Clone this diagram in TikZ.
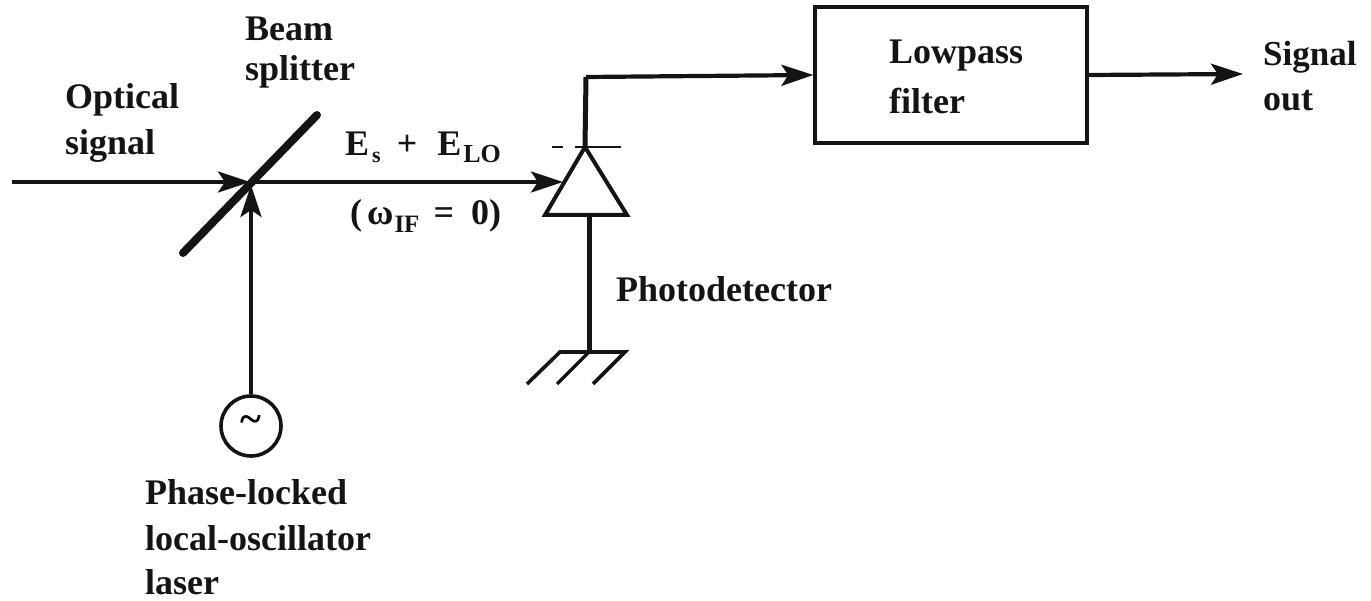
\documentclass[tikz,border=0pt]{standalone}
\usepackage{fontspec}
\setmainfont{Liberation Serif}
\usetikzlibrary{arrows.meta}
\tikzset{
  wire/.style={line width=4.2pt,black!92},
  arr/.style={wire,-{Stealth[length=32pt,width=21pt,inset=7pt]}},
  lbl/.style={font=\fontsize{36pt}{40pt}\selectfont\bfseries,align=left,anchor=west,inner sep=0pt,text=black!92},
}
\begin{document}
\begin{tikzpicture}[x=1pt,y=-1pt]
\useasboundingbox (0,0) rectangle (1371,601);
\fill[white] (0,0) rectangle (1371,601);
\node[draw=black!92,line width=3.2pt,minimum width=272pt,minimum height=136pt,inner sep=0pt] (lp) at (951,75) {};
\node[lbl] (lptext1) at (889,56) {Lowpass};
\node[lbl] (lptext2) at (889,101) {filter};
\node[circle,draw=black!92,line width=3.6pt,minimum size=60pt,inner sep=0pt] (osc) at (251,426) {};
\node[font=\fontsize{40pt}{40pt}\selectfont\bfseries,inner sep=0pt] (tilde) at (251,424) {\char"7E};
\coordinate (in) at (12,182);
\coordinate (bs) at (250,182);
\coordinate (bsa) at (183,253);
\coordinate (bsb) at (317,115);
\coordinate (vtip) at (251,185);
\coordinate (dapex) at (585,147);
\coordinate (dl) at (545,215);
\coordinate (dr) at (627,215);
\coordinate (dtip) at (563,182);
\coordinate (dbase) at (589,215);
\coordinate (gnd) at (589,352);
\coordinate (corner) at (586,77);
\coordinate (out) at (1243,74);
\draw[line width=8pt,black!92,line cap=round] (bsa) -- (bsb);
\draw[arr] (in) -- (bs);
\draw[arr] (osc) -- (vtip);
\draw[arr] (bs) -- (dtip);
\draw[line width=4pt,black!92,line join=miter] (dapex) -- (dr) -- (dl) -- cycle;
\draw[line width=2.6pt,black!92] (552,147) -- (563,147) (575,147) -- (621,147);
\draw[line width=5pt,black!92] (dapex) -- (corner);
\draw[arr] (corner) -- (lp.west);
\draw[line width=5pt,black!92] (dbase) -- (gnd);
\draw[arr] (lp.east) -- (out);
\draw[line width=3.6pt,black!92] (527,384) -- (560,352) -- (625,352) -- (593,384);
\draw[line width=3.4pt,black!92] (589,352) -- (557,384);
\node[lbl] (a) at (245,29) {Beam};
\node[lbl] (b) at (245,72) {splitter};
\node[lbl] (c) at (65,100) {Optical};
\node[lbl] (d) at (65,146) {signal};
\node[lbl] (e) at (345,147) {E\hspace{3pt}\raisebox{-7pt}{\fontsize{22pt}{22pt}\selectfont s}\hspace{16pt}+\hspace{20pt}E\hspace{2pt}\raisebox{-7pt}{\fontsize{26pt}{26pt}\selectfont LO}};
\node[lbl] (f) at (350,216) {(\hspace{5pt}ω\hspace{1pt}\raisebox{-8pt}{\fontsize{25pt}{25pt}\selectfont IF}\hspace{14pt}=\hspace{17pt}0)};
\node[lbl] (g) at (616,289) {Photodetector};
\node[lbl,font=\fontsize{35pt}{40pt}\selectfont\bfseries] (h) at (1263,57) {Signal};
\node[lbl] (i) at (1263,101) {out};
\node[lbl] (j) at (145,492) {Phase-locked};
\node[lbl] (k) at (145,538) {local-oscillator};
\node[lbl] (l) at (145,582) {laser};
\end{tikzpicture}
\end{document}
